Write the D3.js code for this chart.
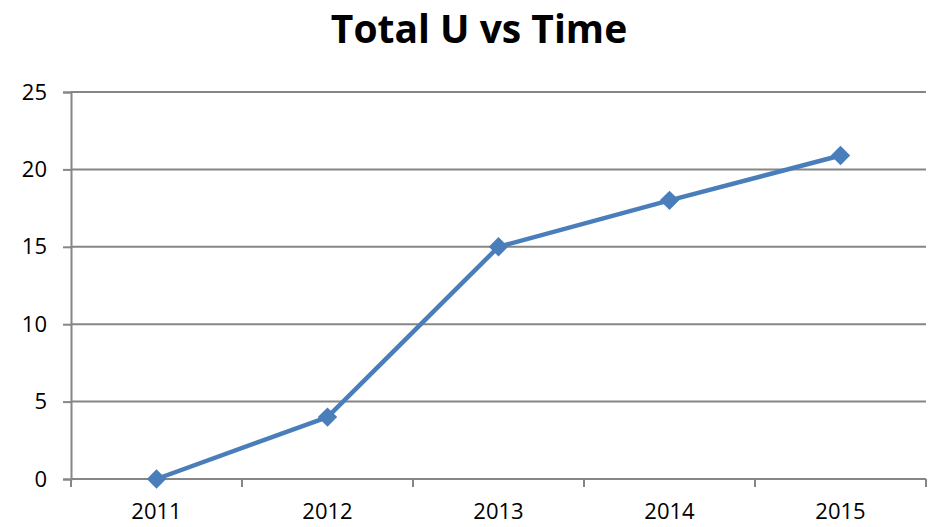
<!DOCTYPE html>
<html>
<head>
<meta charset="utf-8">
<script src="https://cdn.jsdelivr.net/npm/d3@7"></script>
<style>
  body { margin: 0; background: #fff; }
  text { font-family: "Open Sans", "Liberation Sans", sans-serif; }
</style>
</head>
<body>
<div id="chart"></div>
<script>
const width = 936, height = 527;

// data
const years = ["2011", "2012", "2013", "2014", "2015"];
const totalU = [0, 4, 15, 18, 20.9];
const yTicks = [0, 5, 10, 15, 20, 25];

const margin = {top: 92, right: 10, bottom: 48, left: 71};

var svg = d3.select("#chart")
  .append("svg")
  .attr("width", width)
  .attr("height", height);

var x = d3.scaleBand()
  .domain(years)
  .range([margin.left, width - margin.right]);

var y = d3.scaleLinear()
  .domain([0, 25])
  .range([height - margin.bottom, margin.top]);

// title
svg.append("text")
  .attr("x", 479)
  .attr("y", 43)
  .attr("text-anchor", "middle")
  .style("font-size", "39px")
  .style("font-weight", "bold")
  .text("Total U vs Time");

// gridlines
svg.append("g")
  .selectAll("line")
  .data(yTicks.filter(d => d > 0))
  .enter().append("line")
  .attr("x1", margin.left)
  .attr("x2", width - margin.right)
  .attr("y1", d => y(d))
  .attr("y2", d => y(d))
  .attr("stroke", "#868686")
  .attr("stroke-width", 2);

// y axis
var yAxis = svg.append("g")
  .attr("transform", `translate(${margin.left},0)`)
  .call(d3.axisLeft(y).tickValues(yTicks).tickSize(8).tickPadding(16));
yAxis.select(".domain").attr("stroke", "#868686").attr("stroke-width", 2);
yAxis.selectAll(".tick line").attr("stroke", "#868686").attr("stroke-width", 2);
yAxis.selectAll(".tick text").style("font-size", "22px").attr("fill", "#000");

// x axis with ticks on band edges
var xAxis = svg.append("g")
  .attr("transform", `translate(0,${y(0)})`);
xAxis.append("line")
  .attr("x1", margin.left)
  .attr("x2", width - margin.right)
  .attr("stroke", "#868686")
  .attr("stroke-width", 2);
xAxis.selectAll(".edge")
  .data(years.concat(["end"]))
  .enter().append("line")
  .attr("class", "edge")
  .attr("x1", (d, i) => i < years.length ? x(d) : x.range()[1])
  .attr("x2", (d, i) => i < years.length ? x(d) : x.range()[1])
  .attr("y1", 0)
  .attr("y2", 8)
  .attr("stroke", "#868686")
  .attr("stroke-width", 2);
xAxis.selectAll(".lbl")
  .data(years)
  .enter().append("text")
  .attr("class", "lbl")
  .attr("x", d => x(d) + x.bandwidth() / 2)
  .attr("y", 40)
  .attr("text-anchor", "middle")
  .style("font-size", "22px")
  .text(d => d);

// line
var line = d3.line()
  .x((d, i) => x(years[i]) + x.bandwidth() / 2)
  .y(d => y(d));

svg.append("path")
  .datum(totalU)
  .attr("d", line)
  .attr("fill", "none")
  .attr("stroke", "#4A7EBB")
  .attr("stroke-width", 4.5)
  .attr("stroke-linejoin", "round");

svg.append("g")
  .selectAll("path")
  .data(totalU)
  .enter().append("path")
  .attr("d", d3.symbol().type(d3.symbolDiamond2).size(240))
  .attr("transform", (d, i) => `translate(${x(years[i]) + x.bandwidth() / 2},${y(d)})`)
  .attr("fill", "#4A7EBB");
</script>
</body>
</html>
